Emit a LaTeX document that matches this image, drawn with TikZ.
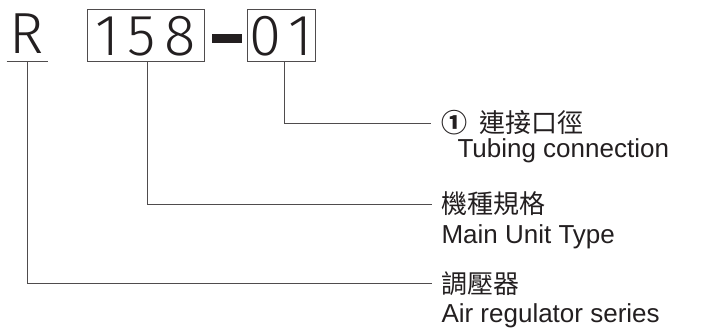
\documentclass[tikz,border=0pt]{standalone}
\usepackage{fontspec}
\setmainfont{Liberation Sans}
\newfontfamily\cjk{Noto Sans CJK TC}
\newfontfamily\thin{Fira Sans Light}[LetterSpace=14]
\usetikzlibrary{positioning,calc}
\definecolor{ink}{HTML}{231F20}

\begin{document}
\begin{tikzpicture}[x=1pt, y=-1pt, line width=1pt, draw=ink!80, text=ink,
    code/.style={font=\thin\fontsize{58}{58}\selectfont, inner xsep=0pt,
      inner ysep=6pt, text height=40pt, text depth=0pt, anchor=base},
    zhtxt/.style={anchor=west, inner sep=0pt, font=\cjk\fontsize{26}{26}\selectfont},
    entxt/.style={anchor=base west, inner sep=0pt, font=\fontsize{26}{26}\selectfont}]
  \useasboundingbox (0,0) rectangle (702,327);
  % model code
  \node[code, inner ysep=0pt, text depth=8pt, minimum width=40pt] (ser) at (27,53) {R};%
  \node[code, draw, minimum width=117pt] (type) at (145.5,55) {158};%
  \node[fill=ink, inner sep=0pt, minimum width=30pt, minimum height=9pt] (dash) at (227,38) {};%
  \node[code, draw, minimum width=68pt] (port) at (281,55) {01};%
  \draw (ser.south west) -- (ser.south east);
  % descriptions
  \node[zhtxt] (porttxt) at (441,123) {{\bfseries ①}\hspace{12pt}連接口徑};%
  \node[entxt] (porten) [below right=34pt and 16pt of porttxt.west, anchor=base west] {Tubing connection};%
  \node[zhtxt] (typetxt) at (441,204) {機種規格};%
  \node[entxt] (typeen) [below=39pt of typetxt.west, anchor=base west] {Main Unit Type};%
  \node[zhtxt] (sertxt) at (441,283.5) {調壓器};%
  \node[entxt] (seren) [below=38.5pt of sertxt.west, anchor=base west] {Air regulator series};%
  % leader lines
  \draw ([xshift=3.5pt]port.south) |- ([xshift=-10pt]porttxt.west);
  \draw ([xshift=2pt]type.south) |- ([xshift=-9pt]typetxt.west);
  \draw (ser.south) |- ([xshift=-9pt]sertxt.west);
\end{tikzpicture}
\end{document}
